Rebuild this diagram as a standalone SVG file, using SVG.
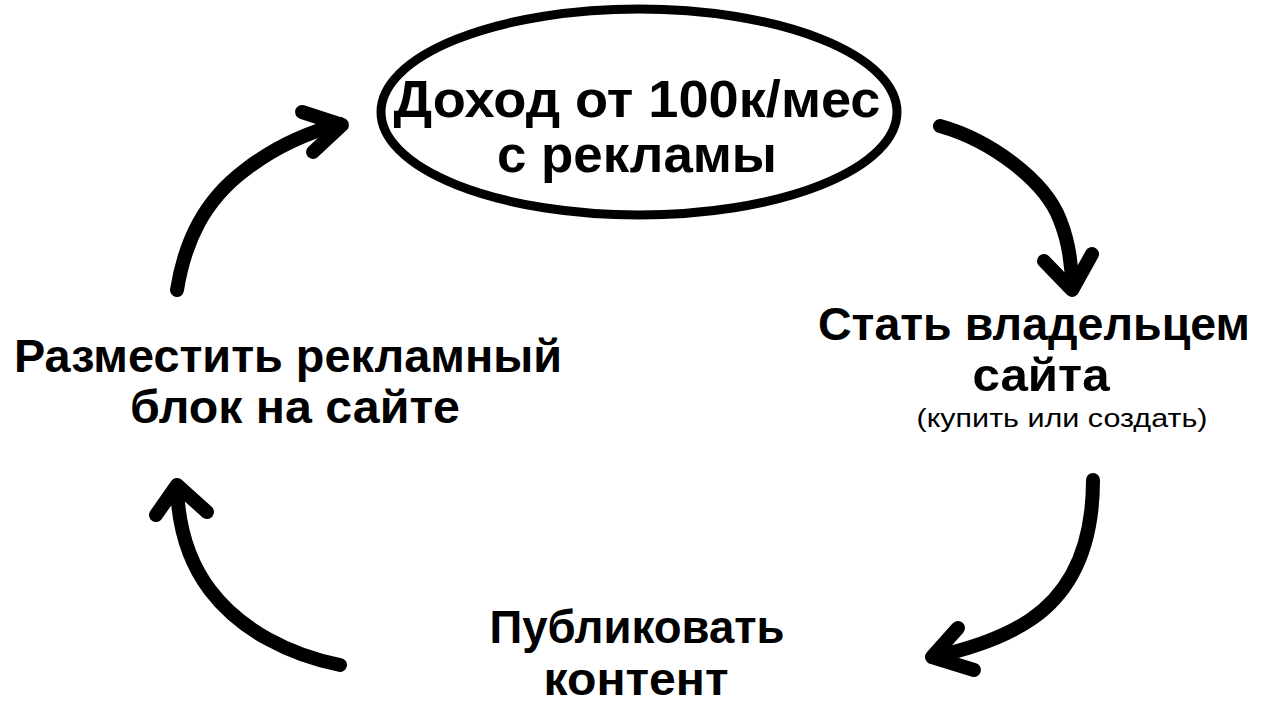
<svg xmlns="http://www.w3.org/2000/svg" width="1280" height="720" viewBox="0 0 1280 720">
<style>
.t{font-family:"Liberation Sans","DejaVu Sans",sans-serif;font-weight:bold;fill:#000}
.s{font-family:"Liberation Sans","DejaVu Sans",sans-serif;fill:#000}
.c{fill:none;stroke:#000;stroke-width:14;stroke-linecap:round;stroke-linejoin:round}
</style>
<rect width="1280" height="720" fill="#fff"/>
<g id="node-income">
<ellipse cx="639" cy="112" rx="258" ry="103" fill="#fff" stroke="#000" stroke-width="9"/>
<text class="t" x="637" y="117" font-size="52" text-anchor="middle" textLength="487" lengthAdjust="spacingAndGlyphs">Доход от 100к/мес</text>
<text class="t" x="637" y="172" font-size="52" text-anchor="middle" textLength="280" lengthAdjust="spacingAndGlyphs">с рекламы</text>
</g>
<g id="node-owner">
<text class="t" x="1034" y="340" font-size="47" text-anchor="middle" textLength="432" lengthAdjust="spacingAndGlyphs">Стать владельцем</text>
<text class="t" x="1041" y="391" font-size="47" text-anchor="middle" textLength="137" lengthAdjust="spacingAndGlyphs">сайта</text>
<text class="s" x="1062" y="427" font-size="25" text-anchor="middle" textLength="291" lengthAdjust="spacingAndGlyphs">(купить или создать)</text>
</g>
<g id="node-publish">
<text class="t" x="637" y="643" font-size="47" text-anchor="middle" textLength="295" lengthAdjust="spacingAndGlyphs">Публиковать</text>
<text class="t" x="636" y="695" font-size="47" text-anchor="middle" textLength="185" lengthAdjust="spacingAndGlyphs">контент</text>
</g>
<g id="node-place">
<text class="t" x="288" y="372" font-size="47" text-anchor="middle" textLength="548" lengthAdjust="spacingAndGlyphs">Разместить рекламный</text>
<text class="t" x="295" y="423" font-size="47" text-anchor="middle" textLength="330" lengthAdjust="spacingAndGlyphs">блок на сайте</text>
</g>
<g id="connectors">
<path class="c" d="M940,126 C990,140 1045,180 1060,220 C1068,240 1072,265 1072,288"/>
<path class="c" d="M1044,261 L1072,290 L1092,254"/>
<path class="c" d="M1093,480 C1093,540 1075,590 1030,620 C1000,640 965,650 933,657"/>
<path class="c" d="M958,628 L932,657 L974,670"/>
<path class="c" d="M340,665 C290,655 240,630 210,590 C185,557 178,520 177,487"/>
<path class="c" d="M156,515 L177,485 L207,512"/>
<path class="c" d="M177,290 C185,240 205,200 245,170 C275,147 305,133 340,124"/>
<path class="c" d="M302,112 L342,125 L313,152"/>
</g>
</svg>
